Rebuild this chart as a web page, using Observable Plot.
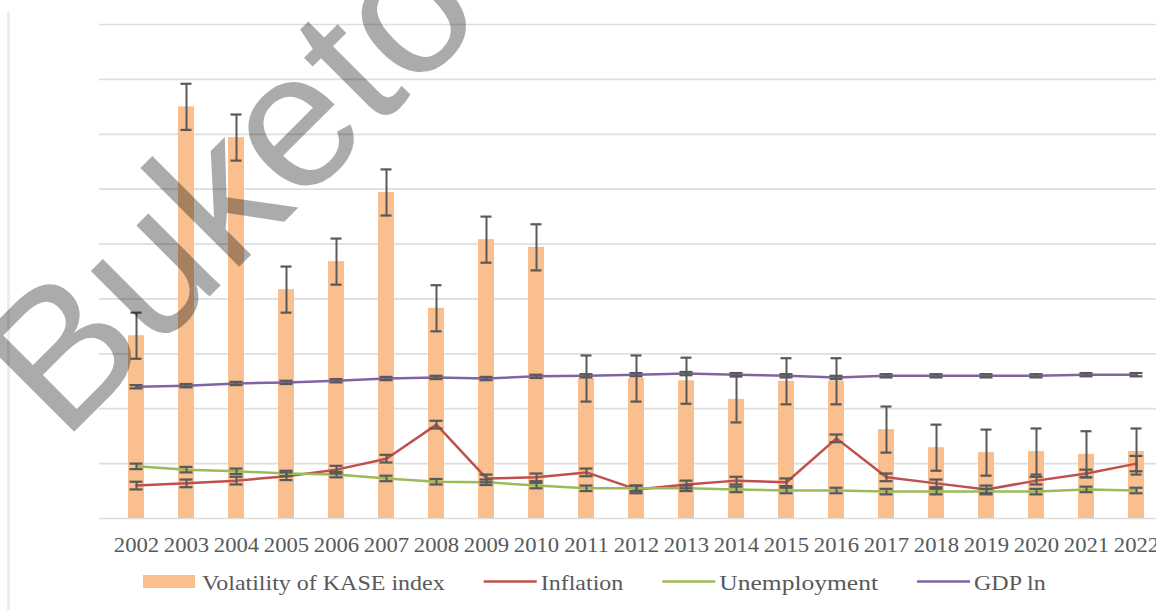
<!DOCTYPE html>
<html><head><meta charset="utf-8">
<script src="https://cdn.jsdelivr.net/npm/d3@7"></script>
<script src="https://cdn.jsdelivr.net/npm/@observablehq/plot@0.6"></script>
<style>
html,body{margin:0;padding:0;background:#fff;overflow:hidden;width:1156px;height:610px}
#wrap{position:relative;width:1156px;height:610px;overflow:hidden;background:#fff}
#border{position:absolute;left:7px;top:12px;width:3px;height:600px;background:#ececec}
#chart{position:absolute;left:0;top:0;width:1180px}
#chart svg{max-width:none !important}
#legend{position:absolute;left:0;top:560px}
#wm{position:absolute;left:0;top:0;pointer-events:none}
</style></head><body>
<div id="wrap"><div id="border"></div><div id="chart"></div><svg id="legend" width="1156" height="50"></svg><svg id="wm" width="1156" height="610"></svg></div>
<script>
const years = ["2002","2003","2004","2005","2006","2007","2008","2009","2010","2011","2012","2013","2014","2015","2016","2017","2018","2019","2020","2021","2022"];
const kase = [3.33, 7.50, 6.94, 4.17, 4.68, 5.94, 3.83, 5.08, 4.94, 2.55, 2.55, 2.51, 2.17, 2.50, 2.50, 1.62, 1.29, 1.20, 1.22, 1.17, 1.22];
const kaseErr = [0.42, 0.42, 0.42, 0.42, 0.42, 0.42, 0.42, 0.42, 0.42, 0.42, 0.42, 0.42, 0.42, 0.42, 0.42, 0.42, 0.42, 0.42, 0.42, 0.42, 0.42];
const inflation = [0.60, 0.64, 0.69, 0.77, 0.89, 1.09, 1.71, 0.73, 0.75, 0.84, 0.53, 0.62, 0.69, 0.66, 1.46, 0.75, 0.64, 0.53, 0.69, 0.82, 1.00];
const inflationErr = [0.07, 0.07, 0.07, 0.07, 0.07, 0.07, 0.07, 0.07, 0.07, 0.07, 0.07, 0.07, 0.07, 0.07, 0.07, 0.07, 0.07, 0.07, 0.07, 0.07, 0.14];
const unemployment = [0.95, 0.89, 0.86, 0.82, 0.80, 0.73, 0.67, 0.66, 0.60, 0.55, 0.55, 0.55, 0.53, 0.51, 0.51, 0.49, 0.49, 0.49, 0.49, 0.53, 0.51];
const unemploymentErr = [0.05, 0.05, 0.05, 0.05, 0.05, 0.05, 0.05, 0.05, 0.05, 0.05, 0.05, 0.05, 0.05, 0.05, 0.05, 0.05, 0.05, 0.05, 0.05, 0.05, 0.05];
const gdp = [2.40, 2.42, 2.46, 2.48, 2.51, 2.55, 2.57, 2.55, 2.59, 2.60, 2.62, 2.64, 2.62, 2.60, 2.57, 2.60, 2.60, 2.60, 2.60, 2.62, 2.62];
const gdpErr = [0.03, 0.03, 0.03, 0.03, 0.03, 0.03, 0.03, 0.03, 0.03, 0.03, 0.03, 0.03, 0.03, 0.03, 0.03, 0.03, 0.03, 0.03, 0.03, 0.03, 0.03];
const gridTicks = [0, 1, 2, 3, 4, 5, 6, 7, 8, 9];
const seriesNames = ["Volatility of KASE index", "Inflation", "Unemployment", "GDP ln"];
const watermark = "Buketov";

const colors = {kase: "#f9bf8f", inflation: "#c0504d", unemployment: "#9bbb59", gdp: "#8064a2", err: "#595959"};
const serif = "'Liberation Serif', 'Times New Roman', 'DejaVu Serif', serif";

const rows = years.map((year, i) => ({year, kase: kase[i], kaseErr: kaseErr[i]}));
const lineSeries = [
  {key: "inflation", values: inflation, errs: inflationErr},
  {key: "unemployment", values: unemployment, errs: unemploymentErr},
  {key: "gdp", values: gdp, errs: gdpErr}
];
const lineRows = lineSeries.flatMap(s => years.map((year, i) => ({series: s.key, year, v: s.values[i], e: s.errs[i]})));

const errMarks = (data, x, yv, ye, inset) => [
  Plot.ruleX(data, {x, y1: d => yv(d) - ye(d), y2: d => yv(d) + ye(d), stroke: colors.err, strokeWidth: 2}),
  Plot.tickY(data, {x, y: d => yv(d) + ye(d), stroke: colors.err, strokeWidth: 2.2, insetLeft: inset, insetRight: inset}),
  Plot.tickY(data, {x, y: d => yv(d) - ye(d), stroke: colors.err, strokeWidth: 2.2, insetLeft: inset, insetRight: inset})
];

const chart = Plot.plot({
  width: 1180,
  height: 560,
  marginLeft: 99,
  marginRight: 0,
  marginTop: 24,
  marginBottom: 42,
  style: {fontFamily: serif, fontSize: "21px", color: "#595959", background: "transparent", maxWidth: "none"},
  x: {domain: years, range: [110, 1162], paddingInner: 0.68, paddingOuter: 0.34, tickSize: 0, tickPadding: 19, label: null},
  y: {domain: [0, 9], axis: null},
  marks: [
    Plot.ruleY(gridTicks, {stroke: "#dedede", strokeWidth: 1.7}),
    Plot.barY(rows, {x: "year", y: "kase", fill: colors.kase}),
    Plot.line(lineRows, {x: "year", y: "v", z: "series", stroke: d => colors[d.series], strokeWidth: 2.5}),
    ...errMarks(rows, "year", d => d.kase, d => d.kaseErr, 2.5),
    ...errMarks(lineRows, "year", d => d.v, d => d.e, 1.5)
  ]
});
chart.style.maxWidth = "none";
document.getElementById("chart").appendChild(chart);

// horizontally stretched serif text like the reference; returns the stretched width
function stretch(t, k) {
  const w = t.getComputedTextLength() * k;
  t.setAttribute("textLength", w.toFixed(1));
  t.setAttribute("lengthAdjust", "spacingAndGlyphs");
  return w;
}
chart.querySelectorAll("g[aria-label^='x-axis'] text").forEach(t => { t.style.fontFamily = serif; stretch(t, 1.08); });

// legend
const leg = d3.select("#legend");
let lx = 143;
const legendKeys = ["kase", "inflation", "unemployment", "gdp"];
const legendStretch = {unemployment: 1.16};
seriesNames.forEach((name, i) => {
  const key = legendKeys[i];
  if (key === "kase") {
    leg.append("rect").attr("x", lx).attr("y", 15).attr("width", 52).attr("height", 13).attr("fill", colors.kase);
    lx += 59;
  } else {
    leg.append("line").attr("x1", lx).attr("x2", lx + 53).attr("y1", 21.5).attr("y2", 21.5).attr("stroke", colors[key]).attr("stroke-width", 2.5);
    lx += 57;
  }
  const t = leg.append("text").attr("x", lx).attr("y", 30).attr("fill", "#595959")
    .style("font-family", serif).style("font-size", "22px").text(name);
  lx += stretch(t.node(), legendStretch[key] || 1.09) + 39;
});

// watermark
d3.select("#wm").append("text")
  .attr("transform", "translate(63,443) rotate(-45)")
  .style("font-family", "'Liberation Sans', Arial, sans-serif").style("font-size", "193px")
  .attr("fill", "#000").attr("fill-opacity", 0.33).text(watermark);
</script>
</body></html>
